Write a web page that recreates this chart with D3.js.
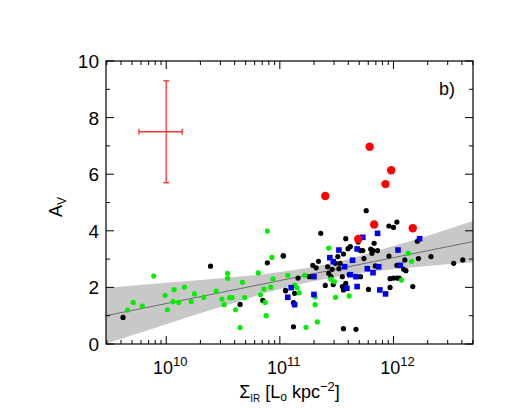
<!DOCTYPE html>
<html>
<head>
<meta charset="utf-8">
<script src="https://cdn.jsdelivr.net/npm/d3@7"></script>
<style>
  body { margin: 0; background: #fff; }
  text { font-family: "Liberation Sans", Arial, sans-serif; }
</style>
</head>
<body>
<div id="chart"></div>
<script>
// log10(Sigma_IR), A_V
var greenPts = [[9.66,1.20],[9.71,1.47],[9.79,1.34],[9.89,2.40],[9.99,1.72],[10.01,1.21],[10.06,1.50],[10.07,1.92],
  [10.11,1.47],[10.16,2.01],[10.22,1.50],[10.25,1.77],[10.33,1.65],[10.44,1.87],[10.49,1.59],[10.51,1.39],
  [10.54,2.50],[10.54,2.32],[10.56,1.64],[10.58,1.64],[10.61,1.21],[10.65,0.58],[10.67,2.18],[10.69,1.64],
  [10.81,2.51],[10.83,1.74],[10.86,1.94],[10.87,1.47],[10.88,1.00],[10.89,3.99],[10.92,2.01],[10.93,3.06],
  [10.94,2.30],[11.07,2.43],[11.13,2.07],[11.15,1.99],[11.17,1.81],[11.22,2.43],[11.23,0.59],[11.31,1.67],
  [11.31,1.39],[11.33,0.78],[11.43,3.39],[11.45,2.29],[11.48,2.20],[11.49,1.65],[11.61,1.70],[12.13,3.20],
  [12.16,2.92],[12.07,2.26]];
var blackPts = [[9.62,0.94],[10.39,2.75],[10.65,1.40],[10.85,1.54],[10.89,2.87],[11.03,3.12],[11.05,1.90],
  [11.03,3.11],[11.05,1.88],[11.13,1.79],[11.12,1.46],[11.12,0.61],[11.16,2.33],[11.26,2.38],[11.29,2.78],
  [11.34,2.92],[11.32,2.69],[11.36,3.91],[11.40,2.07],[11.42,2.73],[11.43,2.50],[11.45,2.38],[11.46,2.64],
  [11.47,2.10],[11.49,2.85],[11.51,3.09],[11.52,2.66],[11.53,2.85],[11.55,2.38],[11.55,2.03],[11.56,1.91],
  [11.56,3.18],[11.56,0.54],[11.58,3.72],[11.58,2.14],[11.60,3.37],[11.61,2.45],[11.62,3.44],[11.67,0.52],
  [11.69,3.60],[11.71,3.30],[11.71,2.38],[11.73,3.30],[11.74,3.02],[11.76,4.71],[11.78,1.93],[11.80,3.35],
  [11.81,3.20],[11.82,3.30],[11.83,3.56],[11.84,2.76],[11.86,3.30],[11.96,3.11],[11.96,4.17],[11.97,2.31],
  [11.97,2.00],[12.00,2.33],[12.00,4.12],[12.03,2.33],[12.03,4.31],[12.03,2.78],[12.05,2.33],[12.09,2.64],
  [12.10,2.97],[12.11,2.59],[12.17,2.03],[12.21,3.63],[12.22,3.02],[12.33,3.09],[12.53,2.85],[12.61,2.97]];
var bluePts = [[11.07,1.65],[11.10,1.99],[11.13,1.39],[11.30,2.38],[11.30,1.75],[11.44,3.05],[11.47,2.91],
  [11.52,3.32],[11.57,2.73],[11.59,1.97],[11.62,2.45],[11.64,2.96],[11.67,2.38],[11.68,2.03],[11.68,3.36],
  [11.73,3.77],[11.77,2.66],[11.82,2.52],[11.86,3.91],[11.87,2.73],[11.88,1.91],[11.93,1.77],[12.04,3.32],
  [12.06,2.78],[12.23,3.72]];
var redPts = [[11.79,6.97],[11.98,6.14],[11.93,5.65],[11.40,5.23],[11.83,4.22],[12.17,4.09],[11.69,3.71]];

// fit line and confidence band
var bandX = [9.47, 10, 10.5, 11, 11.5, 12, 12.7];
var bandLo = [0.01, 0.70, 1.33, 1.94, 2.38, 2.64, 2.89];
var bandHi = [1.99, 2.16, 2.33, 2.54, 2.90, 3.46, 4.35];
var fitX = [9.47, 12.7];
var fitY = [1.0, 3.62];

// typical error: centre, x range (log), y range
var errBar = {x: 10.0, y: 7.5, x0: 9.76, x1: 10.14, y0: 5.7, y1: 9.3};

var W = 526, H = 409,
    pLeft = 106, pRight = 473, pTop = 61, pBottom = 344;

var svg = d3.select("#chart").append("svg").attr("width", W).attr("height", H);

var x = d3.scaleLinear().domain([9.47, 12.70]).range([pLeft, pRight]);
var y = d3.scaleLinear().domain([0, 10]).range([pBottom, pTop]);

svg.append("path")
    .datum(bandX.map(function(d, i) { return [d, bandLo[i], bandHi[i]]; }))
    .attr("fill", "#c8c8c8")
    .attr("d", d3.area().curve(d3.curveMonotoneX)
      .x(function(d) { return x(d[0]); })
      .y0(function(d) { return y(d[1]); })
      .y1(function(d) { return y(d[2]); }));

svg.append("line")
    .attr("x1", x(fitX[0])).attr("y1", y(fitY[0]))
    .attr("x2", x(fitX[1])).attr("y2", y(fitY[1]))
    .attr("stroke", "#555").attr("stroke-width", 0.8);

function dots(data, color, r) {
  svg.append("g").selectAll("circle").data(data).enter().append("circle")
    .attr("cx", function(d) { return x(d[0]); })
    .attr("cy", function(d) { return y(d[1]); })
    .attr("r", r).attr("fill", color);
}
dots(blackPts, "#000", 2.6);
dots(greenPts, "#00ee00", 2.6);
svg.append("g").selectAll("rect").data(bluePts).enter().append("rect")
    .attr("x", function(d) { return x(d[0]) - 2.8; })
    .attr("y", function(d) { return y(d[1]) - 2.8; })
    .attr("width", 5.6).attr("height", 5.6).attr("fill", "#0000ee");
dots(redPts, "#ff0000", 4.2);

// error bar
var eg = svg.append("g").attr("stroke", "#ff3030").attr("stroke-width", 1.3);
eg.append("line").attr("x1", x(errBar.x)).attr("x2", x(errBar.x)).attr("y1", y(errBar.y0)).attr("y2", y(errBar.y1));
eg.append("line").attr("x1", x(errBar.x0)).attr("x2", x(errBar.x1)).attr("y1", y(errBar.y)).attr("y2", y(errBar.y));
[errBar.y0, errBar.y1].forEach(function(v) {
  eg.append("line").attr("x1", x(errBar.x) - 3).attr("x2", x(errBar.x) + 3).attr("y1", y(v)).attr("y2", y(v));
});
[errBar.x0, errBar.x1].forEach(function(v) {
  eg.append("line").attr("x1", x(v)).attr("x2", x(v)).attr("y1", y(errBar.y) - 3).attr("y2", y(errBar.y) + 3);
});

// frame
svg.append("rect").attr("x", pLeft).attr("y", pTop).attr("width", pRight - pLeft).attr("height", pBottom - pTop)
    .attr("fill", "none").attr("stroke", "#000").attr("stroke-width", 1.2);

// ticks
var minor = [], major = [10, 11, 12];
for (var e = 9; e <= 12; e++) for (var m = 2; m < 10; m++) {
  var v = e + Math.log10(m);
  if (v >= 9.47 && v <= 12.7) minor.push(v);
}
var tk = svg.append("g").attr("stroke", "#000").attr("stroke-width", 1);
minor.forEach(function(v) {
  tk.append("line").attr("x1", x(v)).attr("x2", x(v)).attr("y1", pBottom).attr("y2", pBottom - 4);
  tk.append("line").attr("x1", x(v)).attr("x2", x(v)).attr("y1", pTop).attr("y2", pTop + 4);
});
major.forEach(function(v) {
  tk.append("line").attr("x1", x(v)).attr("x2", x(v)).attr("y1", pBottom).attr("y2", pBottom - 8);
  tk.append("line").attr("x1", x(v)).attr("x2", x(v)).attr("y1", pTop).attr("y2", pTop + 8);
});
d3.range(0, 10.01, 1).forEach(function(v) {
  var len = v % 2 === 0 ? 8 : 4;
  tk.append("line").attr("x1", pLeft).attr("x2", pLeft + len).attr("y1", y(v)).attr("y2", y(v));
  tk.append("line").attr("x1", pRight).attr("x2", pRight - len).attr("y1", y(v)).attr("y2", y(v));
});

var yLabels = [0, 2, 4, 6, 8, 10];
svg.append("g").selectAll("text").data(yLabels).enter().append("text")
    .attr("x", pLeft - 7).attr("y", function(d) { return y(d) + 7; })
    .attr("text-anchor", "end").attr("font-size", 19).text(function(d) { return d; });

var xLabels = [10, 11, 12];
xLabels.forEach(function(e) {
  var t = svg.append("text").attr("x", x(e) + 4).attr("y", pBottom + 30)
    .attr("text-anchor", "middle").attr("font-size", 18);
  t.append("tspan").text("10");
  t.append("tspan").attr("dy", -8).attr("font-size", 13).text(e);
});

var xt = svg.append("text").attr("x", (pLeft + pRight) / 2).attr("y", pBottom + 54)
    .attr("text-anchor", "middle").attr("font-size", 18);
xt.append("tspan").text("Σ");
xt.append("tspan").attr("dy", 4).attr("font-size", 10).text("IR");
xt.append("tspan").attr("dy", -4).text("  [L");
xt.append("tspan").attr("dy", 3).attr("font-size", 12).text("o");
xt.append("tspan").attr("dy", -3).text("  kpc");
xt.append("tspan").attr("dy", -7).attr("font-size", 13).text("−2");
xt.append("tspan").attr("dy", 7).text("]");

var yt = svg.append("text").attr("transform", "translate(62,207) rotate(-90)")
    .attr("text-anchor", "middle").attr("font-size", 18);
yt.append("tspan").text("A");
yt.append("tspan").attr("dy", 4).attr("font-size", 12).text("V");

svg.append("text").attr("x", 439).attr("y", 95).attr("font-size", 18).text("b)");
</script>
</body>
</html>
